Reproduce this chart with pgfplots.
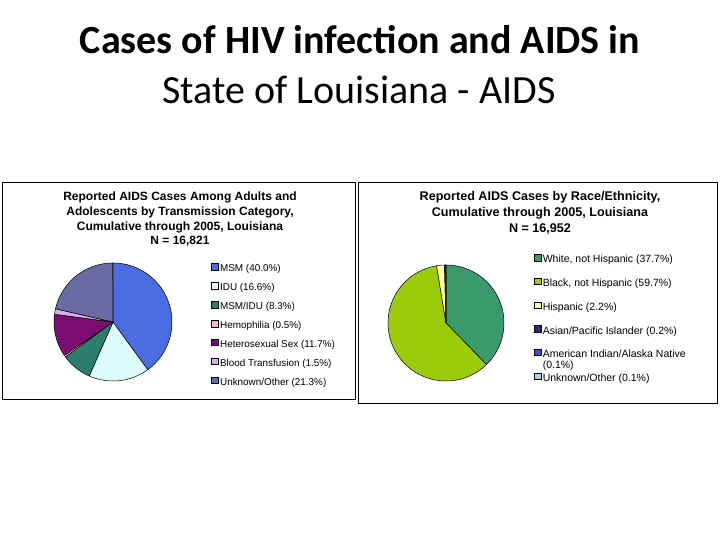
\documentclass[border=0pt]{standalone}
\usepackage{pgfplots}
\pgfplotsset{compat=1.18}
\usepackage{fontspec}
\setmainfont{Liberation Sans}
\newfontfamily\titlefont{Carlito}

% left pie colours
\definecolor{cMSM}{HTML}{4A6EE2}
\definecolor{cIDU}{HTML}{DDFBFA}
\definecolor{cMSMIDU}{HTML}{2B7E6E}
\definecolor{cHemo}{HTML}{F2B9CC}
\definecolor{cHetero}{HTML}{7D0C72}
\definecolor{cBlood}{HTML}{D6AEEA}
\definecolor{cUnkL}{HTML}{6A6AA4}
% right pie colours
\definecolor{cWhite}{HTML}{3A9A6C}
\definecolor{cBlack}{HTML}{9CCB0A}
\definecolor{cHisp}{HTML}{FFFFA6}
\definecolor{cAsian}{HTML}{2B2A7C}
\definecolor{cAmInd}{HTML}{3352CC}
\definecolor{cUnkR}{HTML}{B2CDEA}

% one pie slice: #1 = percentage, #2 = colour, #3 = legend text
\gdef\cum{0}
\newcommand\slice[3]{%
  \pgfmathsetmacro\sa{90-3.6*\cum}%
  \pgfmathsetmacro\sb{90-3.6*(\cum+#1)}%
  \edef\tmp{\noexpand\addplot[fill=#2, draw=black, line width=0.5pt, domain=\sb:\sa, samples=80, variable=\noexpand\t]
     ({cos(\noexpand\t)},{sin(\noexpand\t)}) -- (axis cs:0,0) -- cycle;}%
  \tmp
  \addlegendentry{#3}%
  \pgfmathsetmacro\cumn{\cum+#1}%
  \xdef\cum{\cumn}%
}

\pgfplotsset{
  pie/.style={
    hide axis, scale only axis, clip=false,
    xmin=-1, xmax=1, ymin=-1, ymax=1,
    anchor=center,
    legend cell align=left,
    legend image code/.code={\draw[##1, draw=black, line width=0.4pt] (0pt,-0.5pt) rectangle (6.5pt,6pt);},
  },
}

\begin{document}
\begin{tikzpicture}[x=1pt,y=1pt]
\fill[white] (0,0) rectangle (720,540);
\useasboundingbox (0,0) rectangle (720,540);

% slide title
\node[anchor=base, font=\titlefont\bfseries\fontsize{40}{48}\selectfont] at (360,486) {Cases of HIV infection and AIDS in};
\node[anchor=base, font=\titlefont\fontsize{40}{48}\selectfont] at (359,436.5) {State of Louisiana - AIDS};

% boxes
\draw[black, line width=0.8pt, fill=white] (2,141) rectangle (355,358);
\draw[black, line width=0.8pt, fill=white] (358,137) rectangle (717,358);

% box titles
\begin{scope}[every node/.style={anchor=base, font=\bfseries\fontsize{12}{15}\selectfont}]
\node at (180,339) {Reported AIDS Cases Among Adults and};
\node at (180,324) {Adolescents by Transmission Category,};
\node at (180,309) {Cumulative through 2005, Louisiana};
\node at (180,295) {N = 16,821};
\end{scope}
\begin{scope}[every node/.style={anchor=base, font=\bfseries\fontsize{12.6}{15}\selectfont}]
\node at (540,339) {Reported AIDS Cases by Race/Ethnicity,};
\node at (540,323) {Cumulative through 2005, Louisiana};
\node at (540,307) {N = 16,952};
\end{scope}

% left pie
\begin{axis}[pie, at={(113pt,218pt)}, width=118pt, height=118pt,
  legend style={at={(axis cs:1.665,1.0)}, anchor=north west, draw=none, fill=none,
    inner sep=0pt, row sep=8.3pt, column sep=0pt,
    font=\fontsize{9.9}{11}\selectfont,
    nodes={inner sep=0pt, inner xsep=1.8pt, text height=6.9pt, text depth=2pt}}]
\gdef\cum{0}
\slice{40.0}{cMSM}{MSM (40.0\%)}
\slice{16.6}{cIDU}{IDU (16.6\%)}
\slice{8.3}{cMSMIDU}{MSM/IDU (8.3\%)}
\slice{0.5}{cHemo}{Hemophilia (0.5\%)}
\slice{11.7}{cHetero}{Heterosexual Sex (11.7\%)}
\slice{1.5}{cBlood}{Blood Transfusion (1.5\%)}
\slice{21.3}{cUnkL}{Unknown/Other (21.3\%)}
\end{axis}

% right pie
\begin{axis}[pie, at={(446pt,217pt)}, width=116pt, height=116pt,
  legend style={at={(axis cs:1.52,1.19)}, anchor=north west, draw=none, fill=none,
    inner sep=0pt, row sep=12.8pt, column sep=0pt,
    font=\fontsize{10.5}{11.5}\selectfont,
    nodes={inner sep=0pt, inner xsep=1.5pt, text height=7.3pt, text depth=2.1pt}}]
\gdef\cum{0}
\slice{37.7}{cWhite}{White, not Hispanic (37.7\%)}
\slice{59.7}{cBlack}{Black, not Hispanic (59.7\%)}
\slice{2.2}{cHisp}{Hispanic (2.2\%)}
\slice{0.2}{cAsian}{Asian/Pacific Islander (0.2\%)}
\slice{0.1}{cAmInd}{\raisebox{0pt}[\height][0pt]{\vtop{\baselineskip=11pt\hbox{American Indian/Alaska Native}\hbox{(0.1\%)}}}}
\slice{0.1}{cUnkR}{Unknown/Other (0.1\%)}
\end{axis}
\end{tikzpicture}
\end{document}
